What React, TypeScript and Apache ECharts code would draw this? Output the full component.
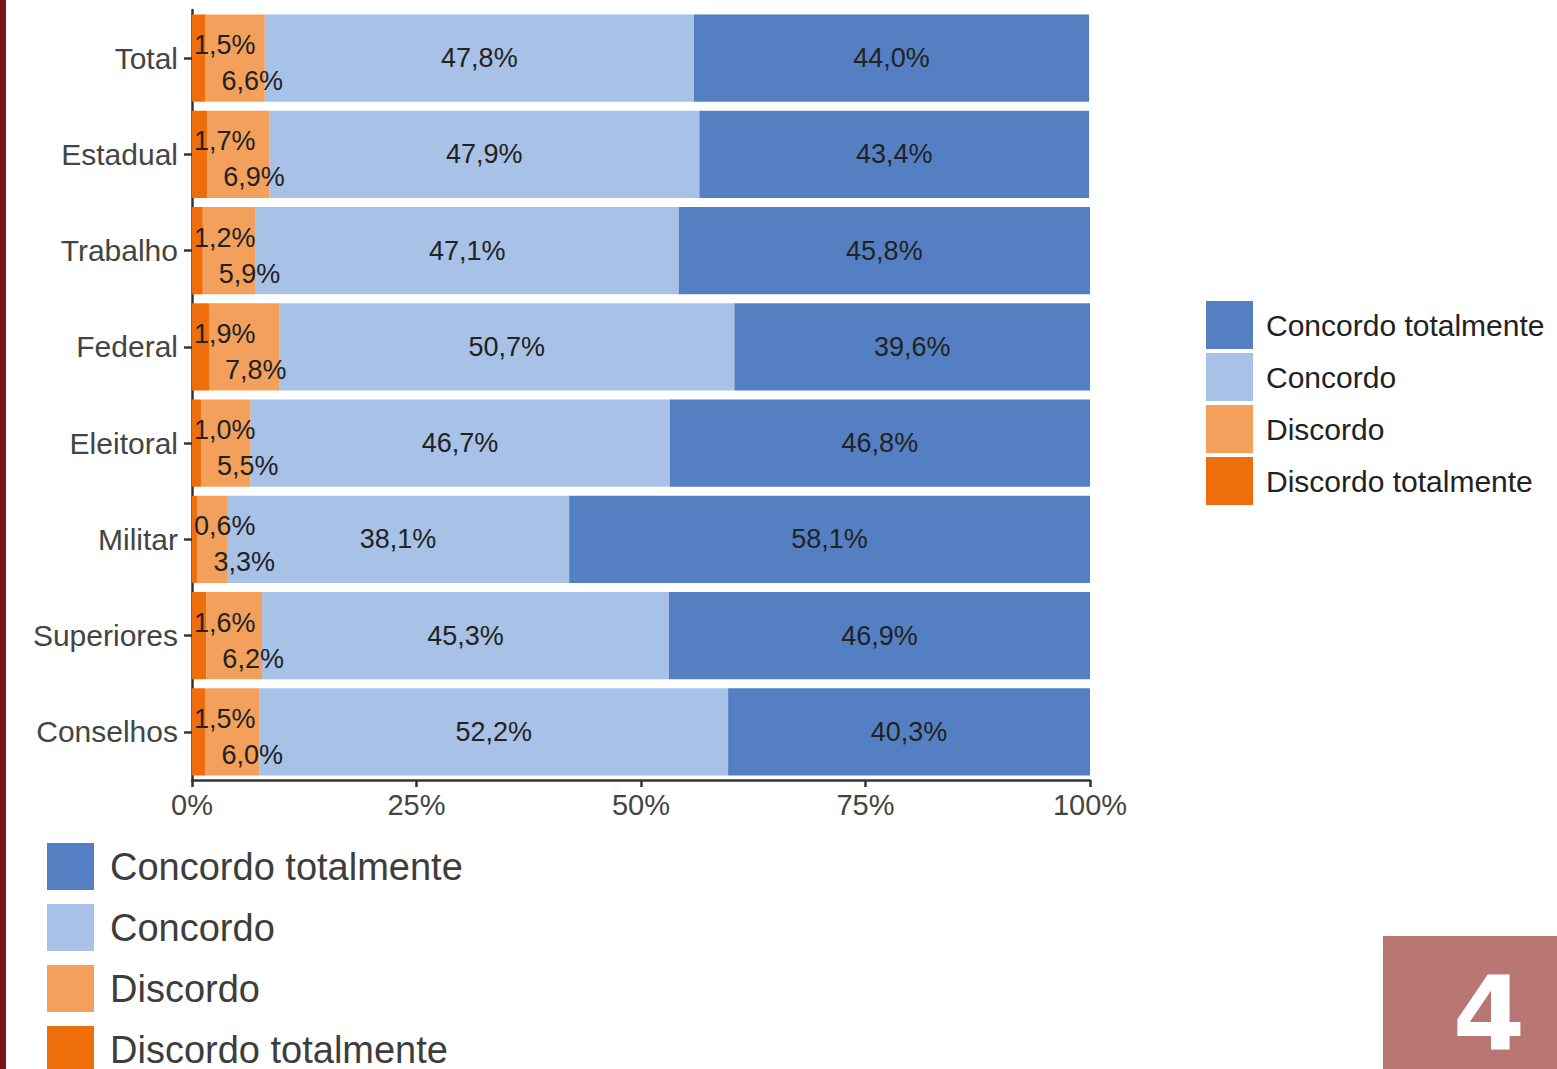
import React, { useEffect, useRef } from "react";
import * as echarts from "echarts";

const categories = ["Total", "Estadual", "Trabalho", "Federal", "Eleitoral", "Militar", "Superiores", "Conselhos"];
const seriesNames = ["Discordo totalmente", "Discordo", "Concordo", "Concordo totalmente"];
const discordoTotalmente = [1.5, 1.7, 1.2, 1.9, 1.0, 0.6, 1.6, 1.5];
const discordo = [6.6, 6.9, 5.9, 7.8, 5.5, 3.3, 6.2, 6.0];
const concordo = [47.8, 47.9, 47.1, 50.7, 46.7, 38.1, 45.3, 52.2];
const concordoTotalmente = [44.0, 43.4, 45.8, 39.6, 46.8, 58.1, 46.9, 40.3];
const xTicks = [0, 25, 50, 75, 100];
const legendOrder = ["Concordo totalmente", "Concordo", "Discordo", "Discordo totalmente"];
const colors = ["#ee6e0b", "#f3a05c", "#a8c1e6", "#5480c3"];

const fmt = (v: number) => v.toFixed(1).replace(".", ",") + "%";

export default function App() {
  const ref = useRef<HTMLDivElement>(null);
  useEffect(() => {
    if (!ref.current) return;
    const chart = echarts.init(ref.current, undefined, { renderer: "svg" });
    const values = [discordoTotalmente, discordo, concordo, concordoTotalmente];
    const labelFont = { fontFamily: "Liberation Sans, Arial, sans-serif", fontSize: 27, color: "#222" };
    const labelCfgs: any[] = [
      { show: true, position: "insideLeft", distance: 2, offset: [0, -13], ...labelFont },
      { show: true, position: "insideLeft", distance: 16, offset: [0, 23], ...labelFont },
      { show: true, position: "inside", ...labelFont },
      { show: true, position: "inside", ...labelFont },
    ];
    const zs = [5, 4, 2, 2];
    chart.setOption({
      animation: false,
      backgroundColor: "#ffffff",
      grid: { left: 192, width: 898, top: 10, height: 770 },
      xAxis: {
        type: "value",
        min: xTicks[0],
        max: xTicks[xTicks.length - 1],
        interval: 25,
        axisLine: { show: true, lineStyle: { color: "#333", width: 2.5 } },
        axisTick: { show: true, length: 7, lineStyle: { color: "#333", width: 2.5 } },
        splitLine: { show: false },
        axisLabel: {
          formatter: (v: number) => `${v}%`,
          fontFamily: "Liberation Sans, Arial, sans-serif",
          fontSize: 29,
          color: "#444",
          margin: 10,
        },
      },
      yAxis: {
        type: "category",
        inverse: true,
        data: categories,
        axisLine: { show: true, lineStyle: { color: "#333", width: 2.5 } },
        axisTick: { show: true, length: 8, alignWithLabel: true, lineStyle: { color: "#333", width: 2.5 } },
        axisLabel: {
          fontFamily: "Liberation Sans, Arial, sans-serif",
          fontSize: 30,
          color: "#444",
          margin: 14,
        },
      },
      legend: [
        {
          orient: "vertical",
          left: 1206,
          top: 301,
          padding: 0,
          itemWidth: 47,
          itemHeight: 48,
          itemGap: 4,
          icon: "rect",
          data: legendOrder,
          textStyle: {
            fontFamily: "Liberation Sans, Arial, sans-serif",
            fontSize: 30,
            color: "#222",
            padding: [0, 0, 0, 8],
          },
        },
        {
          orient: "vertical",
          left: 47,
          top: 843,
          height: 300,
          padding: 0,
          itemWidth: 47,
          itemHeight: 47,
          itemGap: 14,
          icon: "rect",
          data: legendOrder,
          textStyle: {
            fontFamily: "Liberation Sans, Arial, sans-serif",
            fontSize: 38,
            color: "#3d3d3d",
            padding: [0, 0, 0, 11],
          },
        },
      ],
      series: seriesNames.map((name, i) => ({
        name,
        type: "bar",
        stack: "total",
        z: zs[i],
        barCategoryGap: "9.6%",
        data: values[i],
        itemStyle: { color: colors[i] },
        label: { ...labelCfgs[i], formatter: (p: any) => fmt(p.value) },
      })),
      graphic: [
        { type: "rect", left: 0, top: 0, shape: { width: 6, height: 1069 }, style: { fill: "#7a1517" } },
        { type: "rect", left: 1383, top: 936, shape: { width: 174, height: 133 }, style: { fill: "#b97773" } },
        {
          type: "text",
          x: 1489,
          y: 1014,
          style: {
            text: "4",
            fill: "#ffffff",
            fontFamily: "DejaVu Sans, Liberation Sans, sans-serif",
            fontWeight: "bold",
            fontSize: 104,
            lineHeight: 96,
            align: "center",
            verticalAlign: "middle",
          },
        },
      ],
    });
    return () => chart.dispose();
  }, []);
  return <div ref={ref} style={{ position: "fixed", left: 0, top: 0, width: 1557, height: 1069 }} />;
}
